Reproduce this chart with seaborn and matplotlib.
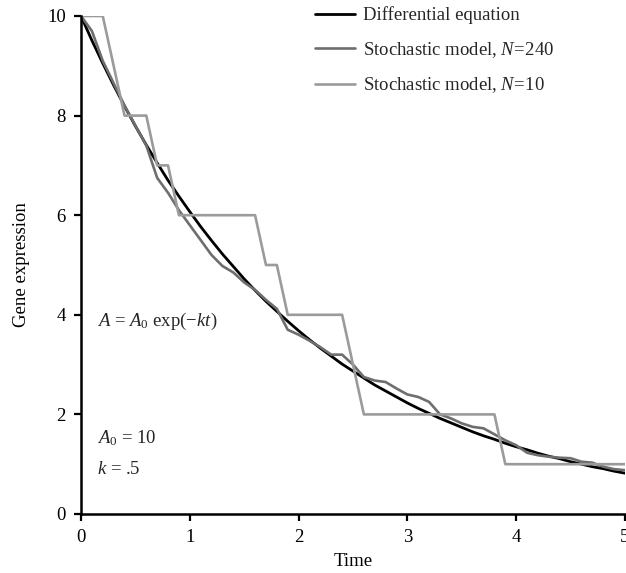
"""
Gene expression decay: differential equation vs stochastic models
"""
import numpy as np
import pandas as pd
import seaborn as sns
import matplotlib.pyplot as plt

# time grid (step .1)
time = [0.0, 0.1, 0.2, 0.3, 0.4, 0.5, 0.6, 0.7, 0.8, 0.9,
        1.0, 1.1, 1.2, 1.3, 1.4, 1.5, 1.6, 1.7, 1.8, 1.9,
        2.0, 2.1, 2.2, 2.3, 2.4, 2.5, 2.6, 2.7, 2.8, 2.9,
        3.0, 3.1, 3.2, 3.3, 3.4, 3.5, 3.6, 3.7, 3.8, 3.9,
        4.0, 4.1, 4.2, 4.3, 4.4, 4.5, 4.6, 4.7, 4.8, 4.9, 5.0]

ode = [10.00, 9.51, 9.05, 8.61, 8.19, 7.79, 7.41, 7.05, 6.70, 6.38,
       6.07, 5.77, 5.49, 5.22, 4.97, 4.72, 4.49, 4.27, 4.07, 3.87,
       3.68, 3.50, 3.33, 3.17, 3.01, 2.87, 2.73, 2.59, 2.47, 2.35,
       2.23, 2.12, 2.02, 1.92, 1.83, 1.74, 1.65, 1.57, 1.50, 1.42,
       1.35, 1.29, 1.22, 1.16, 1.11, 1.05, 1.00, 0.95, 0.91, 0.86, 0.82]

n240 = [10.00, 9.70, 9.10, 8.65, 8.20, 7.80, 7.40, 6.75, 6.45, 6.10,
        5.80, 5.50, 5.20, 4.98, 4.85, 4.65, 4.50, 4.30, 4.12, 3.70,
        3.60, 3.48, 3.35, 3.20, 3.20, 3.00, 2.75, 2.68, 2.65, 2.52,
        2.40, 2.35, 2.25, 2.00, 1.92, 1.82, 1.75, 1.72, 1.60, 1.48,
        1.38, 1.23, 1.18, 1.15, 1.13, 1.12, 1.05, 1.03, 0.95, 0.90, 0.88]

n10 = [10, 10, 10, 9, 8, 8, 8, 7, 7, 6,
       6, 6, 6, 6, 6, 6, 6, 5, 5, 4,
       4, 4, 4, 4, 4, 3, 2, 2, 2, 2,
       2, 2, 2, 2, 2, 2, 2, 2, 2, 1,
       1, 1, 1, 1, 1, 1, 1, 1, 1, 1, 1]

labels = ["Differential equation",
          "Stochastic model, $N\\!=\\!240$",
          "Stochastic model, $N\\!=\\!10$"]
colors = ["#000000", "#6e6e6e", "#9b9b9b"]
widths = [2.0, 1.9, 1.9]

FS = 13.5

sns.set_theme(style="ticks")
plt.rcParams["font.family"] = ["Liberation Serif", "DejaVu Serif"]
plt.rcParams["mathtext.fontset"] = "custom"
plt.rcParams["mathtext.rm"] = "Liberation Serif"
plt.rcParams["mathtext.it"] = "Liberation Serif:italic"

fig = plt.figure(figsize=(6.26, 5.73), dpi=100)
ax = fig.add_axes([81 / 626, 59 / 573, 544 / 626, 498 / 573])

for vals, lab, col, lw in zip([ode, n240, n10], labels, colors, widths):
    sns.lineplot(x=time, y=vals, ax=ax, color=col, linewidth=lw, label=lab)

ax.set_xlim(0, 5)
ax.set_ylim(0, 10)
ax.set_xticks([0, 1, 2, 3, 4, 5])
ax.set_yticks([0, 2, 4, 6, 8, 10])
ax.tick_params(labelsize=FS, length=5, width=1.6, color="black",
               labelcolor="black", pad=6)
for s in ["left", "bottom"]:
    ax.spines[s].set_linewidth(1.8)
    ax.spines[s].set_color("black")
sns.despine(ax=ax)

ax.set_xlabel("Time", fontsize=FS, color="black", labelpad=5)
ax.set_ylabel("Gene expression", fontsize=FS, color="black", labelpad=12)

ax.text(0.15, 3.78, "$A$ = $A_0$ exp(\u2212$kt$)", fontsize=FS)
ax.text(0.15, 1.42, "$A_0$ = 10", fontsize=FS)
ax.text(0.15, 0.8, "$k$ = .5", fontsize=FS)

ax.legend(loc="upper left", bbox_to_anchor=(306 / 626, 1.0 + 3 / 573),
          bbox_transform=fig.transFigure, frameon=False, fontsize=FS,
          borderpad=0.0, handlelength=2.1, handletextpad=0.45,
          labelspacing=0.83)

fig.savefig("out.png", dpi=100)
